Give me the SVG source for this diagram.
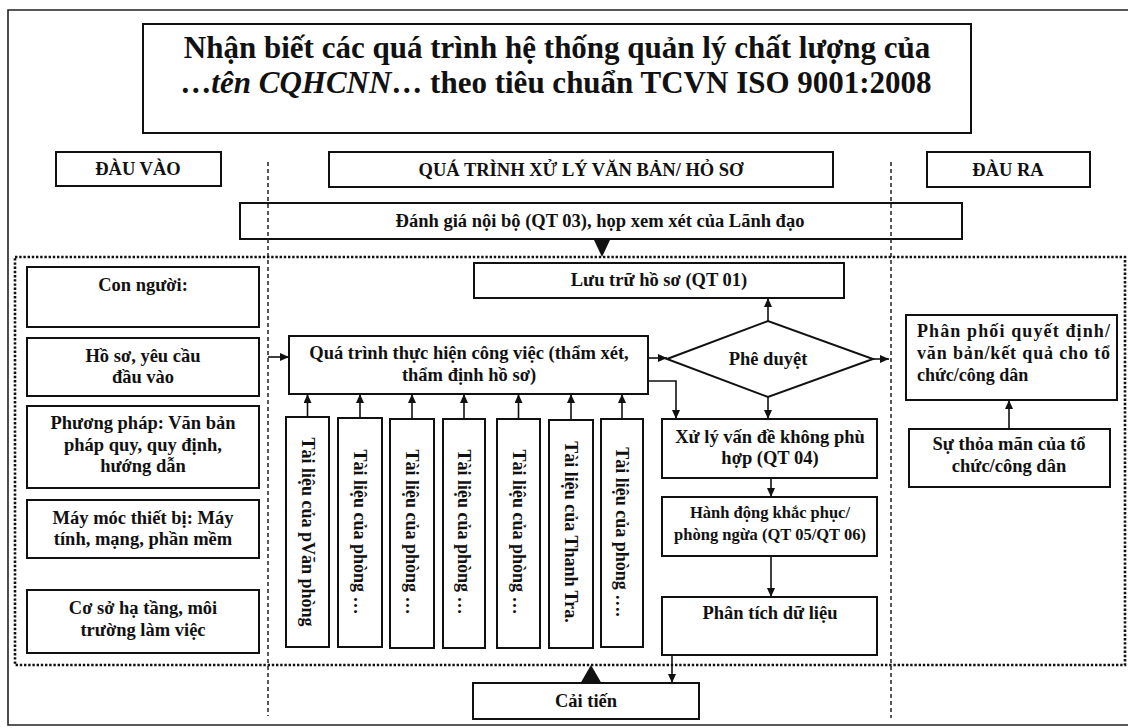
<svg xmlns="http://www.w3.org/2000/svg" width="1128" height="728" viewBox="0 0 1128 728">
<style>
text{font-family:"Liberation Serif","Times New Roman",serif;font-weight:bold;fill:#111;}
.t{font-size:18.5px;text-anchor:middle;}
.v{font-size:18px;text-anchor:middle;}
.h{font-size:18.5px;text-anchor:middle;}
.s{font-size:16.5px;text-anchor:middle;}
.title{font-size:31px;text-anchor:middle;}
.box{fill:none;stroke:#111;stroke-width:2;}
.ln{fill:none;stroke:#111;stroke-width:1.6;}
.dash{fill:none;stroke:#222;stroke-width:1.5;stroke-dasharray:4 3;}
.dot{fill:none;stroke:#111;stroke-width:2.6;stroke-dasharray:2.4 1.8;}
</style>
<defs>
<marker id="ah" markerWidth="9" markerHeight="8" refX="9" refY="4" orient="auto" markerUnits="userSpaceOnUse">
<path d="M0,0 L9,4 L0,8 z" fill="#111"/>
</marker>
</defs>
<rect width="1128" height="728" fill="#fff"/>
<path d="M1128,10 H8 V725 H1128" fill="none" stroke="#222" stroke-width="1.6"/>

<g id="title">
<rect class="box" x="143" y="24" width="828" height="109"/>
<text class="title" x="557" y="58">Nhận biết các quá trình hệ thống quản lý chất lượng của</text>
<text class="title" x="556" y="93">…<tspan font-style="italic">tên CQHCNN</tspan>… theo tiêu chuẩn TCVN ISO 9001:2008</text>
</g>
<g id="dau-vao"><rect class="box" x="56" y="152" width="165" height="34"/><text class="h" x="138" y="175">ĐÀU VÀO</text></g>
<g id="qua-trinh-xu-ly"><rect class="box" x="329" y="152" width="504" height="35"/><text class="h" x="581" y="176">QUÁ TRÌNH XỬ LÝ VĂN BẢN/ HỎ SƠ</text></g>
<g id="dau-ra"><rect class="box" x="927" y="152" width="163" height="35"/><text class="h" x="1008" y="176">ĐÀU RA</text></g>
<g id="danh-gia"><rect class="box" x="240" y="203" width="722" height="36"/><text class="h" x="600" y="227">Đánh giá nội bộ (QT 03), họp xem xét của Lãnh đạo</text></g>

<g id="dividers">
<line class="dash" x1="268" y1="162" x2="268" y2="716"/>
<line class="dash" x1="891" y1="162" x2="891" y2="718"/>
<rect class="dot" x="15" y="257" width="1110" height="408"/>
</g>

<g id="luu-tru"><rect class="box" x="474" y="263" width="370" height="35"/><text class="t" x="659" y="286">Lưu trữ hồ sơ (QT 01)</text></g>

<g id="con-nguoi"><rect class="box" x="27" y="267" width="232" height="60"/><text class="t" x="143" y="291">Con người:</text></g>
<g id="ho-so"><rect class="box" x="27" y="338" width="232" height="58"/><text class="t" x="143" y="362">Hồ sơ, yêu cầu</text><text class="t" x="143" y="383">đầu vào</text></g>
<g id="phuong-phap"><rect class="box" x="27" y="406" width="232" height="82"/><text class="t" x="143" y="429">Phương pháp: Văn bản</text><text class="t" x="143" y="451">pháp quy, quy định,</text><text class="t" x="143" y="472">hướng dẫn</text></g>
<g id="may-moc"><rect class="box" x="27" y="500" width="232" height="58"/><text class="t" x="143" y="524">Máy móc thiết bị: Máy</text><text class="t" x="143" y="545">tính, mạng, phần mềm</text></g>
<g id="co-so"><rect class="box" x="27" y="590" width="232" height="63"/><text class="t" x="143" y="614">Cơ sở hạ tầng, môi</text><text class="t" x="143" y="636">trường làm việc</text></g>

<g id="qua-trinh-thuc-hien"><rect class="box" x="289" y="336" width="359" height="58"/><text class="t" x="469" y="359">Quá trình thực hiện công việc (thẩm xét,</text><text class="t" x="469" y="381">thẩm định hồ sơ)</text></g>

<g id="tl1"><rect class="box" x="286" y="417" width="43" height="230"/><text class="v" transform="translate(301.5,532) rotate(90)">Tài liệu của pVăn phòng</text></g>
<g id="tl2"><rect class="box" x="338" y="418" width="44" height="229"/><text class="v" transform="translate(354,532) rotate(90)">Tài liệu của phòng …</text></g>
<g id="tl3"><rect class="box" x="390" y="419" width="44" height="229"/><text class="v" transform="translate(406,532) rotate(90)">Tài liệu của phòng …</text></g>
<g id="tl4"><rect class="box" x="443" y="419" width="42" height="229"/><text class="v" transform="translate(458,532) rotate(90)">Tài liệu của phòng …</text></g>
<g id="tl5"><rect class="box" x="497" y="419" width="43" height="229"/><text class="v" transform="translate(512.5,532) rotate(90)">Tài liệu của phòng …</text></g>
<g id="tl6"><rect class="box" x="549" y="420" width="44" height="228"/><text class="v" transform="translate(565,532) rotate(90)">Tài liệu của Thanh Tra.</text></g>
<g id="tl7"><rect class="box" x="601" y="419" width="42" height="228"/><text class="v" transform="translate(616,532) rotate(90)">Tài liệu của phòng ….</text></g>

<g id="phe-duyet"><path class="box" d="M667,359 L768,321 L873,359 L768,397 Z"/><text class="t" x="768" y="365">Phê duyệt</text></g>
<g id="xu-ly"><rect class="box" x="662" y="419" width="215" height="59"/><text class="t" x="770" y="443">Xử lý vấn đề không phù</text><text class="t" x="770" y="464">hợp (QT 04)</text></g>
<g id="hanh-dong"><rect class="box" x="662" y="497" width="215" height="59"/><text class="s" x="770" y="518">Hành động khắc phục/</text><text class="s" x="770" y="540">phòng ngừa (QT 05/QT 06)</text></g>
<g id="phan-tich"><rect class="box" x="662" y="597" width="215" height="58"/><text class="t" x="770" y="619">Phân tích dữ liệu</text></g>
<g id="cai-tien"><rect class="box" x="473" y="683" width="226" height="36"/><text class="t" x="586" y="707">Cải tiến</text></g>

<g id="phan-phoi"><rect class="box" x="906" y="315" width="211" height="85"/>
<text x="917" y="337" font-size="18" textLength="193" lengthAdjust="spacing">Phân phối quyết định/</text>
<text x="917" y="359" font-size="18" textLength="193" lengthAdjust="spacing">văn bản/kết quả cho tổ</text>
<text x="917" y="381" font-size="18">chức/công dân</text></g>
<g id="su-thoa-man"><rect class="box" x="909" y="429" width="201" height="58"/><text class="t" x="1009" y="450">Sự thỏa mãn của tổ</text><text class="t" x="1009" y="472">chức/công dân</text></g>

<g id="connectors">
<line class="ln" x1="268" y1="357" x2="289" y2="357" marker-end="url(#ah)"/>
<line class="ln" x1="648" y1="358" x2="667" y2="358" marker-end="url(#ah)"/>
<line class="ln" x1="768" y1="321" x2="768" y2="298" marker-end="url(#ah)"/>
<line class="ln" x1="873" y1="359" x2="889" y2="359" marker-end="url(#ah)"/>
<path class="ln" d="M648,381 H676 V419" marker-end="url(#ah)"/>
<line class="ln" x1="768" y1="397" x2="768" y2="419" marker-end="url(#ah)"/>
<line class="ln" x1="771" y1="478" x2="771" y2="497" marker-end="url(#ah)"/>
<line class="ln" x1="771" y1="556" x2="771" y2="597" marker-end="url(#ah)"/>
<line class="ln" x1="672" y1="655" x2="672" y2="683" marker-end="url(#ah)"/>
<line class="ln" x1="1009" y1="429" x2="1009" y2="400" marker-end="url(#ah)"/>
<line class="ln" x1="307.5" y1="417" x2="307.5" y2="394" marker-end="url(#ah)"/>
<line class="ln" x1="360" y1="418" x2="360" y2="394" marker-end="url(#ah)"/>
<line class="ln" x1="412" y1="419" x2="412" y2="394" marker-end="url(#ah)"/>
<line class="ln" x1="464" y1="419" x2="464" y2="394" marker-end="url(#ah)"/>
<line class="ln" x1="518.5" y1="419" x2="518.5" y2="394" marker-end="url(#ah)"/>
<line class="ln" x1="571" y1="420" x2="571" y2="394" marker-end="url(#ah)"/>
<line class="ln" x1="622" y1="419" x2="622" y2="394" marker-end="url(#ah)"/>
<path d="M594,240 L610,240 L602,257 Z" fill="#111"/>
<path d="M580,684 L602,684 L591,665 Z" fill="#111"/>
</g>
</svg>
